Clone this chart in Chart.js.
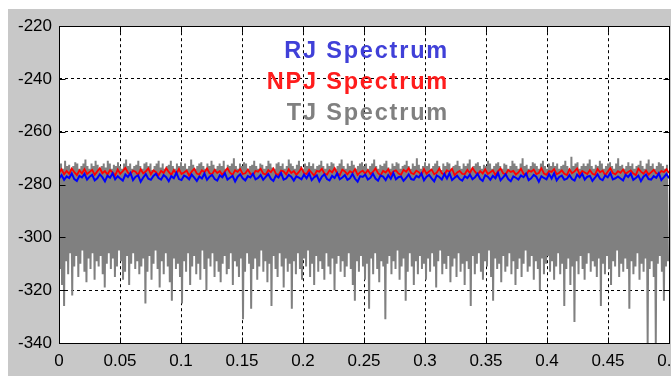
<!DOCTYPE html>
<html>
<head>
<meta charset="utf-8">
<script src="https://cdn.jsdelivr.net/npm/chart.js@4/dist/chart.umd.min.js"></script>
<style>
  html, body { margin: 0; padding: 0; background: #fff; width: 671px; height: 376px; overflow: hidden; }
  #wrap { position: absolute; left: 8px; top: 9px; }
</style>
</head>
<body>
<div id="wrap"><canvas id="chartSpectrum" width="700" height="367"></canvas></div>
<script>
// axis ticks
const xTicks = [0, 0.05, 0.1, 0.15, 0.2, 0.25, 0.3, 0.35, 0.4, 0.45, 0.5];
const yTicks = [-340, -320, -300, -280, -260, -240, -220];

const seriesNames = ["RJ Spectrum", "NPJ Spectrum", "TJ Spectrum"];

// RJ spectrum (blue)
const rjValues = [
  -277.8, -276.4, -278.2, -276.9, -277.5, -275.8, -277.9, -278.6, -276.7, -277.3, -275.9, -278.1, -277.0, -276.3, -278.4, -277.6, -276.1, -277.2, -278.8, -276.6,
  -277.4, -275.7, -278.0, -276.8, -277.7, -278.5, -276.2, -277.1, -275.6, -278.3, -277.0, -276.5, -278.9, -277.3, -276.0, -277.8, -278.2, -276.7, -275.9, -277.5,
  -278.1, -276.4, -277.2, -278.7, -276.8, -277.6, -275.5, -277.9, -278.3, -276.6, -277.1, -278.0, -276.2, -277.4, -278.6, -276.9, -277.7, -275.8, -278.2, -277.0,
  -276.3, -277.9, -278.5, -276.5, -277.2, -275.7, -278.1, -277.4, -276.7, -278.8, -277.0, -276.1, -277.6, -278.4, -276.8, -277.3, -275.9, -278.0, -277.5, -276.4,
  -278.2, -277.1, -276.0, -277.8, -278.6, -276.6, -277.3, -275.6, -278.1, -277.7, -276.3, -277.0, -278.5, -276.9, -277.4, -278.0, -276.2, -277.6, -275.8, -278.3,
  -277.2, -276.5, -278.7, -277.0, -276.1, -277.9, -278.4, -276.7, -277.5, -275.7, -278.0, -277.3, -276.4, -278.2, -277.6, -276.0, -277.8, -278.9, -276.8, -277.1,
  -276.2, -278.1, -277.4, -275.9, -277.7, -278.5, -276.6, -277.0, -278.3, -276.4, -277.8, -275.6, -278.0, -277.2, -276.9, -278.6, -277.5, -276.1, -277.9, -278.2,
  -276.7, -277.3, -275.8, -278.4, -277.0, -276.3, -277.6, -278.8, -276.5, -277.1, -278.1, -276.0, -277.7, -275.7, -278.3, -277.4, -276.6, -277.9, -278.5, -276.8,
  -277.5, -276.2, -278.0, -277.2, -275.9, -277.8, -278.6, -276.4, -277.0, -278.2, -276.7, -277.6, -275.6, -278.4, -277.3, -276.1, -277.9, -278.7, -276.9, -277.4,
  -278.1, -276.5, -277.2, -275.8, -278.3, -277.6, -276.3, -277.0, -278.9, -276.8, -277.5, -278.0, -276.0, -277.7, -275.7, -278.4, -277.1, -276.6, -278.2, -277.8,
  -276.4, -277.9, -278.5, -276.2, -277.3, -275.9, -278.1, -277.0, -276.7, -278.6, -277.4, -276.1, -277.8, -278.3, -276.5, -277.2, -275.6, -278.0, -277.6, -276.9,
  -277.7, -278.4, -276.3, -277.1, -275.8, -278.2, -277.5, -276.6, -278.7, -277.0, -276.2, -277.9, -278.1, -276.8, -277.4, -275.7, -278.3, -277.2, -276.0, -277.6
];

// NPJ spectrum (red)
const npjValues = [
  -275.6, -274.2, -276.1, -274.8, -275.9, -273.9, -275.3, -276.4, -274.6, -275.8, -274.1, -276.0, -275.2, -274.4, -276.3, -275.0, -273.8, -275.7, -274.9, -276.2,
  -274.5, -275.4, -276.6, -274.3, -275.9, -274.9, -273.7, -275.5, -276.2, -274.7, -275.1, -276.4, -274.2, -275.8, -275.0, -273.9, -276.1, -274.6, -275.3, -276.5,
  -274.8, -275.6, -273.8, -275.2, -276.3, -274.5, -275.9, -274.1, -276.0, -275.4, -274.7, -276.6, -275.1, -274.0, -275.8, -276.2, -274.6, -275.3, -273.9, -275.7,
  -276.1, -274.4, -275.6, -274.9, -276.4, -275.0, -273.8, -275.5, -276.3, -274.6, -275.2, -274.1, -276.0, -275.7, -274.3, -275.9, -276.5, -274.8, -275.1, -274.0,
  -275.8, -276.2, -274.5, -275.3, -273.9, -275.9, -276.4, -274.7, -275.0, -276.1, -274.2, -275.6, -274.9, -276.3, -275.2, -273.7, -275.7, -276.0, -274.4, -275.5,
  -276.6, -274.8, -275.1, -274.0, -275.9, -276.2, -274.6, -275.4, -273.8, -275.8, -276.4, -274.3, -275.0, -276.1, -274.9, -275.6, -274.1, -276.3, -275.3, -274.7,
  -275.9, -274.5, -276.0, -275.2, -273.9, -275.7, -276.5, -274.8, -275.4, -274.2, -276.2, -275.0, -274.6, -275.8, -276.3, -274.4, -275.1, -273.8, -275.6, -276.0,
  -274.7, -275.3, -276.4, -274.1, -275.9, -275.0, -274.3, -276.1, -275.5, -273.9, -275.7, -276.2, -274.6, -275.2, -274.0, -276.5, -275.4, -274.8, -275.9, -276.0,
  -274.4, -275.6, -273.7, -275.1, -276.3, -274.9, -275.8, -274.2, -276.0, -275.3, -274.6, -276.4, -275.0, -273.9, -275.7, -276.1, -274.5, -275.2, -274.8, -276.2,
  -275.4, -274.0, -275.9, -276.5, -274.7, -275.1, -274.3, -276.0, -275.6, -273.8, -275.8, -276.3, -274.9, -275.2, -274.1, -276.1, -275.5, -274.6, -275.9, -276.4,
  -274.2, -275.7, -275.0, -273.9, -276.2, -274.8, -275.4, -276.0, -274.5, -275.9, -276.3, -274.1, -275.3, -274.7, -276.5, -275.1, -273.8, -275.6, -276.1, -274.9,
  -275.5, -274.3, -276.0, -275.2, -274.6, -275.8, -276.4, -274.0, -275.1, -275.9, -274.7, -276.2, -275.4, -274.4, -275.7, -276.0, -274.8, -275.3, -274.2, -275.6
];

// TJ spectrum: upper peaks of the grey band
const tjPeaks = [
  -273, -272, -274, -271, -273, -272.5, -274, -273, -271.5, -272, -274, -273, -272, -270.5, -273, -274, -272, -273, -271, -272.5,
  -274, -273, -272, -273.5, -271, -272, -274, -272.5, -273, -271.5, -273, -274, -272, -270.5, -273, -272, -274, -273, -272.5, -271,
  -273, -274, -272, -271.5, -273, -272, -274.5, -273, -272, -271, -273.5, -272, -274, -273, -272.5, -271, -273, -274, -272, -273,
  -271.5, -273, -272, -274, -273, -270.5, -272.5, -274, -273, -272, -271.5, -273, -274, -272, -273, -271, -272.5, -274, -273, -272,
  -273, -271, -274, -272.5, -273, -272, -270, -273, -274, -272, -273, -271.5, -272, -274, -273, -272.5, -271, -273, -274, -272,
  -272.5, -274, -273, -271, -272, -273.5, -274, -272, -271.5, -273, -272, -274, -273, -270.5, -272, -273, -274, -272.5, -271, -273,
  -274, -272, -273, -271.5, -273, -272, -274, -273, -272.5, -271, -273, -274, -272, -273, -271.5, -272, -274, -273, -272, -270.5,
  -273, -274, -272, -273, -271, -272.5, -274, -273, -272, -271.5, -273, -272, -274, -273, -272, -270.5, -273, -274, -272.5, -273,
  -272, -271, -273.5, -274, -272, -273, -271.5, -272, -274, -273, -272.5, -271, -273, -274, -272, -273, -270, -272.5, -274, -273,
  -271.5, -273, -272, -274, -273, -272, -271, -273, -274.5, -272, -273, -271.5, -272, -274, -273, -272.5, -271, -273, -274, -272,
  -273, -272, -270.5, -274, -273, -272, -271.5, -273, -274, -272.5, -273, -271, -272, -274, -273, -272, -271.5, -273, -274, -272,
  -272.5, -274, -273, -271, -272, -273, -274, -272, -270, -273, -272.5, -274, -273, -271.5, -272, -273, -274, -272, -271, -273,
  -274, -272, -273, -271.5, -273, -272, -274, -273, -272.5, -271, -273, -274, -269.5, -273, -272, -271.5, -274, -273, -272, -273,
  -272, -270.5, -273, -274, -272.5, -273, -271, -272, -274, -273, -272, -271.5, -273, -274, -272, -270, -273, -272.5, -274, -273,
  -271.5, -273, -272, -274, -273, -272.5, -271, -273, -274, -272, -270.5, -273, -272, -274, -273, -271.5, -272, -273, -274, -272.5
];

// TJ spectrum: lower dips of the grey band
const tjDips = [
  -312, -318, -326, -309, -314, -306, -322, -311, -307, -315, -310, -305, -313, -317, -308, -312, -306, -316, -309, -311,
  -307, -314, -319, -310, -306, -312, -308, -315, -311, -305, -309, -316, -313, -307, -318, -310, -306, -312, -309, -314,
  -311, -308, -325, -313, -307, -316, -310, -305, -312, -319, -309, -314, -306, -311, -317, -324, -308, -312, -310, -315,
  -325, -309, -313, -306, -318, -311, -307, -314, -310, -316, -305, -312, -320, -308, -311, -306, -315, -309, -313, -317,
  -310, -307, -314, -312, -306, -318, -309, -311, -315, -308, -331, -313, -306, -310, -327, -312, -308, -316, -311, -305,
  -313, -309, -317, -310, -326, -307, -312, -315, -306, -311, -319, -308, -313, -310, -327, -309, -314, -306, -312, -316,
  -308, -311, -305, -315, -310, -318, -307, -313, -309, -312, -316, -306, -311, -314, -308, -320, -310, -307, -313, -309,
  -315, -311, -306, -312, -318, -324, -309, -313, -307, -311, -316, -310, -327, -308, -314, -306, -312, -317, -309, -311,
  -331, -310, -307, -314, -309, -312, -305, -316, -311, -308, -324, -313, -306, -311, -318, -309, -314, -307, -312, -310,
  -316, -308, -313, -306, -311, -319, -309, -305, -314, -310, -312, -307, -317, -311, -308, -315, -306, -313, -310, -318,
  -309, -312, -326, -307, -314, -310, -306, -313, -316, -309, -311, -305, -315, -324, -308, -312, -310, -317, -307, -313,
  -311, -306, -314, -309, -318, -312, -308, -315, -310, -305, -313, -311, -307, -316, -309, -312, -320, -308, -314, -310,
  -307, -313, -309, -316, -311, -306, -314, -310, -326, -312, -308, -318, -311, -332, -309, -314, -307, -312, -316, -310,
  -306, -313, -309, -311, -315, -308, -326, -310, -314, -307, -312, -318, -309, -311, -305, -315, -310, -313, -308, -312,
  -327, -309, -314, -311, -306, -316, -310, -313, -308, -340, -312, -309, -315, -340, -310, -307, -313, -324, -311, -309
];

const X_MAX = 0.5;

// samples are evenly spaced over 0..0.5
function toPoints(values) {
  const step = X_MAX / (values.length - 1);
  return values.map((v, i) => ({ x: i * step, y: v }));
}

// TJ: peak, dip, peak, dip ... as one dense trace
function tjPoints(peaks, dips) {
  const step = X_MAX / peaks.length;
  const pts = [];
  peaks.forEach((p, i) => {
    pts.push({ x: i * step, y: p });
    pts.push({ x: (i + 0.5) * step, y: dips[i] });
  });
  return pts;
}

const frameAndBg = {
  id: "frameAndBg",
  beforeDraw(chart) {
    const { ctx, chartArea: a } = chart;
    ctx.save();
    ctx.fillStyle = "#c8c8c8";
    ctx.fillRect(0, 0, chart.width, chart.height);
    ctx.fillStyle = "#ffffff";
    ctx.fillRect(a.left, a.top, a.right - a.left, a.bottom - a.top);
    ctx.restore();
  },
  afterDatasetsDraw(chart) {
    const { ctx, chartArea: a, scales } = chart;
    const l = Math.round(a.left) + 0.5, r = Math.round(a.right) + 0.5;
    const t = Math.round(a.top) + 0.5, b = Math.round(a.bottom) + 0.5;
    ctx.save();
    ctx.strokeStyle = "#000";
    ctx.lineWidth = 1;
    ctx.beginPath();
    // inward tick marks like the original
    xTicks.forEach(v => {
      const px = Math.round(scales.x.getPixelForValue(v)) + 0.5;
      ctx.moveTo(px, b); ctx.lineTo(px, b - 6);
      ctx.moveTo(px, t); ctx.lineTo(px, t + 6);
    });
    yTicks.forEach(v => {
      const py = Math.round(scales.y.getPixelForValue(v)) + 0.5;
      ctx.moveTo(l, py); ctx.lineTo(l + 6, py);
      ctx.moveTo(r, py); ctx.lineTo(r - 6, py);
    });
    ctx.stroke();
    ctx.strokeRect(l, t, r - l, b - t);
    ctx.restore();
  }
};

const textLegend = {
  id: "textLegend",
  afterDraw(chart, args, opts) {
    const { ctx, chartArea: a } = chart;
    ctx.save();
    ctx.font = "bold 23.5px 'Liberation Sans', Arial, sans-serif";
    ctx.letterSpacing = "1.8px";
    ctx.textAlign = "right";
    ctx.textBaseline = "alphabetic";
    seriesNames.forEach((name, i) => {
      ctx.fillStyle = opts.colors[i];
      ctx.fillText(name, a.left + 390, a.top + 32 + i * 30.8);
    });
    ctx.restore();
  }
};

const tickFont = { family: "'Liberation Sans', Arial, sans-serif", size: 17 };

new Chart(document.getElementById("chartSpectrum"), {
  type: "line",
  data: {
    datasets: [
      {
        label: seriesNames[0],
        data: toPoints(rjValues),
        borderColor: "#0000ff",
        borderWidth: 2
      },
      {
        label: seriesNames[1],
        data: toPoints(npjValues),
        borderColor: "#ff0000",
        borderWidth: 1.8
      },
      {
        label: seriesNames[2],
        data: tjPoints(tjPeaks, tjDips),
        borderColor: "#808080",
        borderWidth: 2
      }
    ]
  },
  options: {
    responsive: false,
    animation: false,
    parsing: false,
    layout: { padding: { top: 16, right: 39, left: 0, bottom: 0 } },
    elements: {
      point: { radius: 0, hoverRadius: 0 },
      line: { tension: 0, fill: false }
    },
    plugins: {
      legend: { display: false },
      tooltip: { enabled: false },
      textLegend: { colors: ["#4040d8", "#ff1c1c", "#808080"] }
    },
    scales: {
      x: {
        type: "linear",
        min: 0,
        max: X_MAX,
        afterFit: s => { s.height = 33; },
        afterBuildTicks: s => { s.ticks = xTicks.map(v => ({ value: v })); },
        ticks: {
          color: "#000",
          font: tickFont,
          padding: 8,
          maxRotation: 0,
          autoSkip: false,
          callback: v => String(Math.round(v * 100) / 100)
        },
        grid: { color: "#000", lineWidth: 1, drawTicks: false },
        border: { display: false, dash: [3, 3] }
      },
      y: {
        type: "linear",
        min: -340,
        max: -220,
        afterFit: s => { s.width = 51; },
        afterBuildTicks: s => { s.ticks = yTicks.map(v => ({ value: v })); },
        ticks: {
          color: "#000",
          font: tickFont,
          padding: 7
        },
        grid: { color: "#000", lineWidth: 1, drawTicks: false },
        border: { display: false, dash: [3, 3] }
      }
    }
  },
  plugins: [frameAndBg, textLegend]
});
</script>
</body>
</html>
